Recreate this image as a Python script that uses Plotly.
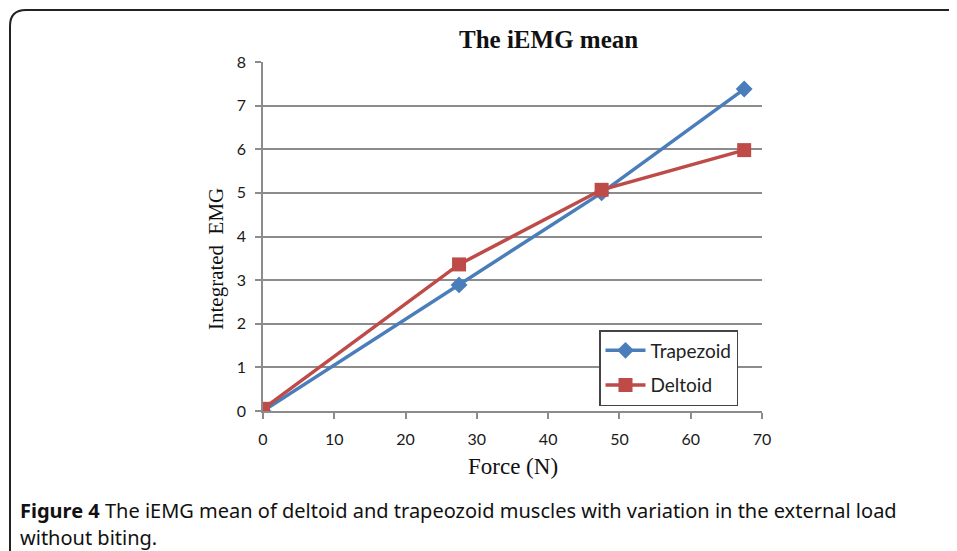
import plotly.graph_objects as go

force = [0, 27.5, 47.5, 67.5]
trapezoid = [0.0, 2.89, 5.0, 7.38]
deltoid = [0.05, 3.36, 5.07, 5.98]

W, H = 957, 551
OFF = 8  # page body margin
def px(x): return (x - OFF) / W
def py(y): return 1 - (y - OFF) / H

fig = go.Figure()
fig.add_trace(go.Scatter(x=force, y=trapezoid, name="Trapezoid", mode="lines+markers",
                         legendgroup="a",
                         line=dict(color="#4a7ebb", width=3.5),
                         marker=dict(symbol="diamond", size=13, color="#4a7ebb")))
fig.add_trace(go.Scatter(x=force, y=deltoid, name="Deltoid", mode="lines+markers",
                         legendgroup="b",
                         line=dict(color="#be4b48", width=3.5),
                         marker=dict(symbol="square", size=14, color="#be4b48")))

axis_common = dict(showline=True, linecolor="#8c8c8c", linewidth=1.5,
                   ticks="outside", ticklen=6, tickcolor="#8c8c8c", tickwidth=1.5,
                   tickfont=dict(family="Lato, Open Sans, sans-serif", size=16, color="#1a1a1a"),
                   zeroline=False, automargin=False)

serif_title = dict(family="Liberation Serif, Times New Roman, serif", size=25, color="#111")
serif_x = dict(family="Liberation Serif, Times New Roman, serif", size=23, color="#111")
serif_y = dict(family="Liberation Serif, Times New Roman, serif", size=21, color="#111")
sans = dict(family="Noto Sans, Open Sans, sans-serif", size=20, color="#111")

fig.update_layout(
    width=W, height=H,
    margin=dict(l=0, r=0, t=0, b=0, pad=0, autoexpand=False),
    paper_bgcolor="white", plot_bgcolor="white",
    showlegend=True,
    legend=dict(x=px(599), y=py(330), xanchor="left", yanchor="top",
                bordercolor="#444", borderwidth=1.5, bgcolor="white",
                font=dict(family="Lato, Open Sans, sans-serif", size=19, color="#222"),
                traceorder="grouped", tracegroupgap=7, itemwidth=40),
    xaxis=dict(domain=[px(263), px(762)], range=[0, 70], tickvals=[0, 10, 20, 30, 40, 50, 60, 70],
               showgrid=False, ticklabelstandoff=7, **axis_common),
    yaxis=dict(domain=[py(411), py(62)], range=[0, 8], tickvals=list(range(9)),
               showgrid=True, gridcolor="#8c8c8c", gridwidth=1.5, ticklabelstandoff=6, **axis_common),
    annotations=[
        dict(text="<b>The iEMG mean</b>", x=px(548), y=py(40), xref="paper", yref="paper",
             xanchor="center", yanchor="middle", showarrow=False, font=serif_title),
        dict(text="Integrated  EMG", x=px(216), y=py(259), xref="paper", yref="paper", textangle=-90,
             xanchor="center", yanchor="middle", showarrow=False, font=serif_y),
        dict(text="Force (N)", x=px(513), y=py(466), xref="paper", yref="paper",
             xanchor="center", yanchor="middle", showarrow=False, font=serif_x),
        dict(text="<b>Figure 4</b> The iEMG mean of deltoid and trapeozoid muscles with variation in the external load",
             x=px(18), y=py(510), xref="paper", yref="paper", xanchor="left", yanchor="middle",
             showarrow=False, font=sans),
        dict(text="without biting.",
             x=px(18), y=py(537), xref="paper", yref="paper", xanchor="left", yanchor="middle",
             showarrow=False, font=sans),
    ],
    shapes=[
        dict(type="path", xref="paper", yref="paper",
             path=f"M {px(10)},{py(600)} L {px(10)},{py(26)} Q {px(10)},{py(10)} {px(26)},{py(10)} L {px(1000)},{py(10)}",
             line=dict(color="#222", width=2)),
    ],
)

fig.write_html("out.html")
